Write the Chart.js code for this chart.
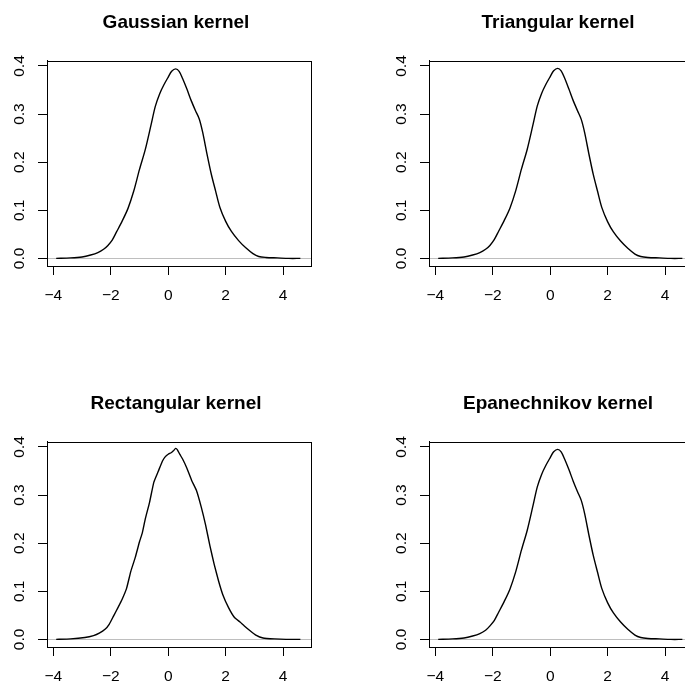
<!DOCTYPE html>
<html>
<head>
<meta charset="utf-8">
<script src="https://cdn.jsdelivr.net/npm/chart.js@4.4.0/dist/chart.umd.min.js"></script>
<style>
  html, body { margin: 0; padding: 0; background: #fff; }
  #wrap { position: relative; width: 685px; height: 682px; overflow: hidden; background: #fff; }
  #wrap canvas { position: absolute; }
</style>
</head>
<body>
<div id="wrap">
  <canvas id="gauss" width="352" height="381" style="left:0;top:0"></canvas>
  <canvas id="tri" width="352" height="381" style="left:382px;top:0"></canvas>
  <canvas id="rect" width="352" height="381" style="left:0;top:381px"></canvas>
  <canvas id="epan" width="352" height="381" style="left:382px;top:381px"></canvas>
</div>
<script>
// tick labels
const xTicks = [-4, -2, 0, 2, 4];
const yTicks = [0, 0.1, 0.2, 0.3, 0.4];

// density estimates
const gaussX = [-3.9, -3.4, -3.0, -2.7, -2.45, -2.25, -2.1, -1.95, -1.8, -1.6, -1.4, -1.2, -1.0, -0.8, -0.6, -0.45, -0.3, -0.15, 0.0, 0.12, 0.26, 0.38, 0.5, 0.65, 0.8, 0.95, 1.08, 1.2, 1.35, 1.5, 1.65, 1.8, 2.0, 2.2, 2.45, 2.7, 2.95, 3.15, 3.4, 3.8, 4.2, 4.6];
const gaussY = [0.000, 0.001, 0.003, 0.007, 0.012, 0.019, 0.027, 0.038, 0.055, 0.078, 0.104, 0.140, 0.185, 0.226, 0.277, 0.316, 0.342, 0.361, 0.377, 0.389, 0.394, 0.389, 0.374, 0.352, 0.328, 0.307, 0.290, 0.262, 0.217, 0.175, 0.140, 0.106, 0.077, 0.056, 0.037, 0.022, 0.010, 0.004, 0.002, 0.001, 0.000, 0.000];

const triX = [-3.9, -3.4, -3.0, -2.7, -2.45, -2.25, -2.1, -1.95, -1.8, -1.6, -1.4, -1.2, -1.0, -0.8, -0.6, -0.45, -0.3, -0.15, 0.0, 0.12, 0.26, 0.38, 0.5, 0.65, 0.8, 0.95, 1.08, 1.2, 1.35, 1.5, 1.65, 1.8, 2.0, 2.2, 2.45, 2.7, 2.95, 3.15, 3.4, 3.8, 4.2, 4.6];
const triY = [0.000, 0.001, 0.003, 0.007, 0.012, 0.019, 0.027, 0.039, 0.056, 0.079, 0.105, 0.141, 0.186, 0.227, 0.278, 0.317, 0.343, 0.362, 0.378, 0.390, 0.395, 0.390, 0.375, 0.352, 0.328, 0.307, 0.289, 0.261, 0.216, 0.174, 0.139, 0.105, 0.076, 0.055, 0.036, 0.021, 0.009, 0.004, 0.002, 0.001, 0.000, 0.000];

const rectX = [-3.9, -3.4, -2.9, -2.6, -2.4, -2.2, -2.05, -1.9, -1.75, -1.6, -1.45, -1.3, -1.15, -1.0, -0.9, -0.8, -0.65, -0.5, -0.35, -0.2, -0.1, 0.0, 0.1, 0.18, 0.26, 0.32, 0.4, 0.5, 0.65, 0.82, 0.98, 1.15, 1.3, 1.45, 1.6, 1.75, 1.9, 2.1, 2.3, 2.5, 2.65, 2.85, 3.05, 3.3, 3.7, 4.1, 4.6];
const rectY = [0.000, 0.001, 0.004, 0.008, 0.013, 0.021, 0.032, 0.049, 0.066, 0.084, 0.106, 0.142, 0.170, 0.203, 0.222, 0.250, 0.285, 0.327, 0.349, 0.371, 0.380, 0.385, 0.388, 0.392, 0.397, 0.394, 0.385, 0.375, 0.356, 0.330, 0.310, 0.275, 0.238, 0.195, 0.156, 0.122, 0.093, 0.066, 0.046, 0.036, 0.028, 0.018, 0.009, 0.003, 0.001, 0.000, 0.000];

const epanX = [-3.9, -3.4, -3.0, -2.7, -2.45, -2.25, -2.1, -1.95, -1.8, -1.6, -1.4, -1.2, -1.0, -0.8, -0.6, -0.45, -0.3, -0.15, 0.0, 0.12, 0.26, 0.38, 0.5, 0.65, 0.8, 0.95, 1.08, 1.2, 1.35, 1.5, 1.65, 1.8, 2.0, 2.2, 2.45, 2.7, 2.95, 3.15, 3.4, 3.8, 4.2, 4.6];
const epanY = [0.000, 0.001, 0.003, 0.007, 0.012, 0.019, 0.028, 0.039, 0.056, 0.079, 0.105, 0.141, 0.186, 0.227, 0.278, 0.317, 0.343, 0.362, 0.378, 0.390, 0.395, 0.390, 0.375, 0.353, 0.329, 0.307, 0.289, 0.261, 0.216, 0.174, 0.139, 0.105, 0.076, 0.055, 0.036, 0.021, 0.009, 0.004, 0.002, 0.001, 0.000, 0.000];

const FONT = '"Liberation Sans", Arial, Helvetica, sans-serif';

// R style box around the plot region
const boxPlugin = {
  id: 'box',
  afterDraw(chart) {
    const a = chart.chartArea;
    const c = chart.ctx;
    c.save();
    c.strokeStyle = '#000';
    c.lineWidth = 1;
    const l = Math.round(a.left) + 0.5, t = Math.round(a.top) + 0.5;
    const r = Math.round(a.right) + 0.5, b = Math.round(a.bottom) + 0.5;
    c.strokeRect(l, t, r - l, b - t);
    c.restore();
  }
};

function makeChart(id, title, xs, ys, tension) {
  return new Chart(document.getElementById(id), {
    type: 'scatter',
    data: {
      datasets: [{
        data: xs.map((x, i) => ({ x: x, y: ys[i] })),
        showLine: true,
        borderColor: '#000',
        borderWidth: 1.4,
        pointRadius: 0,
        tension: tension,
        fill: false
      }]
    },
    options: {
      responsive: false,
      animation: false,
      layout: { padding: 0 },
      plugins: {
        legend: { display: false },
        tooltip: { enabled: false },
        title: {
          display: true,
          text: title,
          color: '#000',
          font: { family: FONT, size: 19, weight: 'bold' },
          padding: { top: 11, bottom: 27 }
        }
      },
      scales: {
        x: {
          type: 'linear',
          min: -4.22,
          max: 4.97,
          afterFit(s) { s.height = 115; },
          afterBuildTicks(s) { s.ticks = xTicks.map(v => ({ value: v })); },
          grid: { drawOnChartArea: false, tickLength: 9, tickColor: '#000' },
          border: { display: true, color: '#000', width: 1 },
          ticks: {
            color: '#000',
            font: { family: FONT, size: 15.5 },
            padding: 11,
            maxRotation: 0,
            callback: v => (v < 0 ? '\u2212' : '') + Math.abs(v)
          }
        },
        y: {
          type: 'linear',
          min: -0.0158,
          max: 0.4108,
          afterFit(s) { s.width = 47; },
          afterBuildTicks(s) { s.ticks = yTicks.map(v => ({ value: v })); },
          grid: {
            color: ctx => (ctx.tick && ctx.tick.value === 0) ? '#bebebe' : 'rgba(0,0,0,0)',
            tickColor: '#000',
            tickLength: 9,
            lineWidth: 1
          },
          border: { display: true, color: '#000', width: 1 },
          ticks: {
            color: '#000',
            font: { family: FONT, size: 15.5 },
            padding: 8,
            minRotation: 90,
            maxRotation: 90,
            crossAlign: 'center',
            callback: v => v.toFixed(1)
          }
        },
        // empty right margin so the title centres like R's
        margin: {
          type: 'linear',
          position: 'right',
          display: true,
          afterFit(s) { s.width = 41; },
          grid: { display: false },
          border: { display: false },
          ticks: { display: false }
        }
      }
    },
    plugins: [boxPlugin]
  });
}

makeChart('gauss', 'Gaussian kernel', gaussX, gaussY, 0.3);
makeChart('tri', 'Triangular kernel', triX, triY, 0.3);
makeChart('rect', 'Rectangular kernel', rectX, rectY, 0.15);
makeChart('epan', 'Epanechnikov kernel', epanX, epanY, 0.3);
</script>
</body>
</html>
